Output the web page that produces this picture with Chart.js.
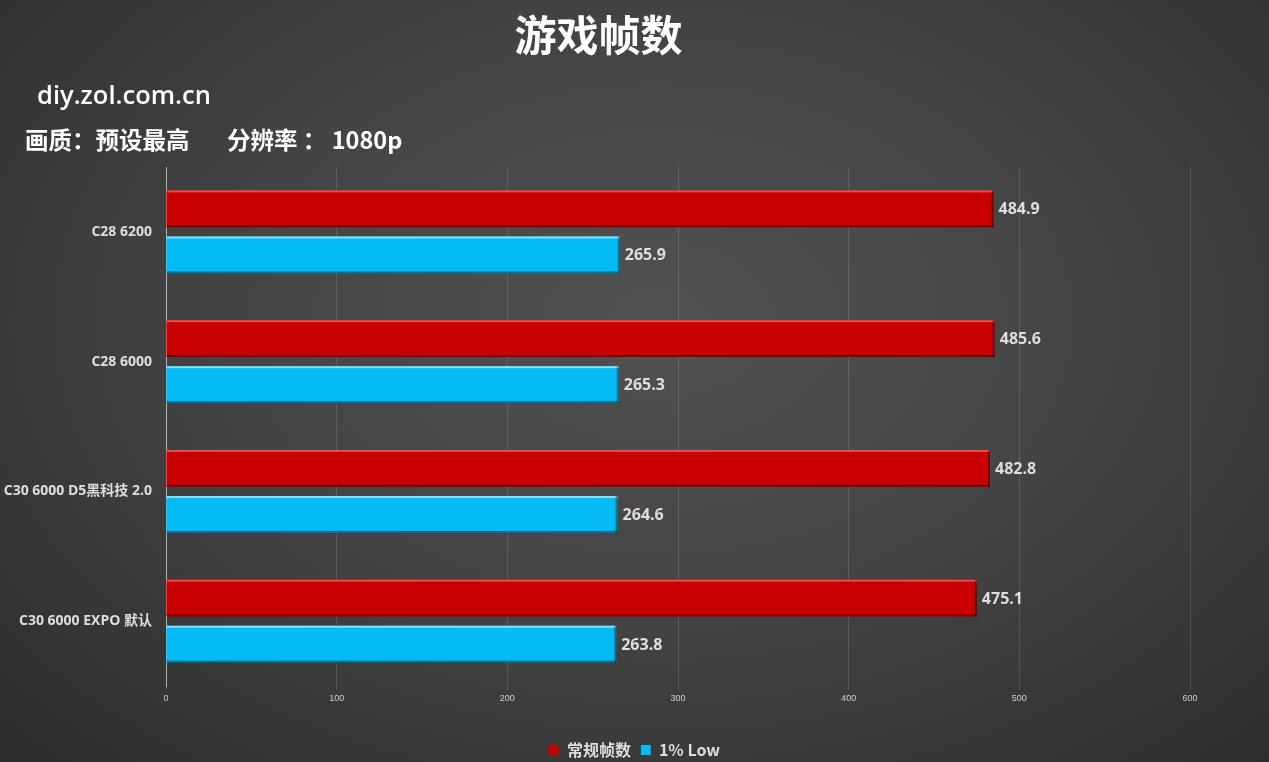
<!DOCTYPE html>
<html>
<head>
<meta charset="utf-8">
<script src="https://cdn.jsdelivr.net/npm/chart.js@4/dist/chart.umd.min.js"></script>
<style>
  html, body { margin: 0; padding: 0; }
  body {
    width: 1269px; height: 762px; overflow: hidden; position: relative;
    background: radial-gradient(ellipse 75% 85% at 52% 42%, #515151 0%, #444 45%, #2b2b2b 100%);
    font-family: "Noto Sans CJK SC", "Noto Sans", sans-serif;
  }
  .txt { position: absolute; color: #fff; font-weight: bold; white-space: pre; }
  #title { left: 0; width: 1197px; text-align: center; top: 2px; font-size: 42px; }
  #site { left: 37px; top: 77px; font-size: 25.5px; font-family: "Open Sans", "Noto Sans", sans-serif; font-weight: 600; }
  #sub { left: 25px; top: 122px; font-size: 23.5px; }
  #sub span { position: absolute; top: 0; }
  #wrap { position: absolute; left: 0; top: 0; width: 1269px; height: 762px; }
</style>
</head>
<body>
<div id="wrap"><canvas id="fpsChart" width="1269" height="762"></canvas></div>
<div class="txt" id="title">游戏帧数</div>
<div class="txt" id="site">diy.zol.com.cn</div>
<div class="txt" id="sub"><span style="left:0">画质：预设最高</span><span style="left:202px">分辨率 ： 1080p</span></div>
<script>
/* ---- data ---- */
const categories = ['C28 6200', 'C28 6000', 'C30 6000 D5黑科技 2.0', 'C30 6000 EXPO 默认'];
const avgFps = [484.9, 485.6, 482.8, 475.1];
const lowFps = [265.9, 265.3, 264.6, 263.8];
const seriesNames = ['常规帧数', '1% Low'];
const xTicks = [0, 100, 200, 300, 400, 500, 600];

const COLORS = {
  red: '#c90000',
  redTop: '#f04a4a',
  blue: '#05bbf6',
  blueTop: '#7fe2ff',
  label: '#dedede',
  grid: 'rgba(255,255,255,0.13)',
};

// value labels + top highlight on each bar
const barDecor = {
  id: 'barDecor',
  afterDatasetsDraw(chart) {
    const { ctx } = chart;
    ctx.save();
    chart.data.datasets.forEach((ds, di) => {
      const meta = chart.getDatasetMeta(di);
      meta.data.forEach((bar, i) => {
        const top = bar.y - bar.height / 2;
        ctx.fillStyle = di === 0 ? COLORS.redTop : COLORS.blueTop;
        ctx.fillRect(bar.base, top, bar.x - bar.base, 2);
        ctx.fillStyle = 'rgba(0,0,0,0.35)';
        ctx.fillRect(bar.base, top + bar.height - 2, bar.x - bar.base, 2);
        ctx.fillRect(bar.x - 2, top, 2, bar.height);

        ctx.fillStyle = COLORS.label;
        ctx.font = 'bold 16px "Open Sans", "Noto Sans", sans-serif';
        ctx.textAlign = 'left';
        ctx.textBaseline = 'middle';
        ctx.fillText(ds.data[i].toFixed(1), bar.x + 5, bar.y + 1);
      });
    });
    ctx.restore();
  }
};

new Chart(document.getElementById('fpsChart'), {
  type: 'bar',
  data: {
    labels: categories,
    datasets: [
      { label: seriesNames[0], data: avgFps, backgroundColor: COLORS.red,
        categoryPercentage: 0.71, barPercentage: 0.8 },
      { label: seriesNames[1], data: lowFps, backgroundColor: COLORS.blue,
        categoryPercentage: 0.71, barPercentage: 0.8 },
    ]
  },
  options: {
    indexAxis: 'y',
    responsive: false,
    animation: false,
    layout: { padding: { top: 167, right: 0, left: 0, bottom: -6 } },
    plugins: {
      legend: {
        position: 'bottom',
        labels: {
          color: COLORS.label,
          boxWidth: 10, boxHeight: 10,
          padding: 10,
          font: { size: 16, weight: 'bold', family: '"Noto Sans CJK SC", sans-serif' },
        }
      },
      tooltip: { enabled: false },
    },
    scales: {
      x: {
        min: 0, max: 600,
        afterBuildTicks: (s) => { s.ticks = xTicks.map(v => ({ value: v })); },
        grid: { color: COLORS.grid, drawTicks: true, tickLength: 4 },
        border: { display: false },
        ticks: { color: '#cfcfcf', font: { size: 9 }, padding: 3 },
        afterFit: (s) => { s.height = 46; },
      },
      y: {
        grid: { display: false },
        border: { color: 'rgba(255,255,255,0.55)', width: 1 },
        ticks: {
          color: COLORS.label, padding: 6,
          font: { size: 14, weight: 'bold', family: '"Open Sans", "Noto Sans CJK SC", sans-serif' },
        },
        afterFit: (s) => { s.width = 166; },
      },
      yRight: {
        type: 'category',
        position: 'right',
        grid: { display: false },
        border: { display: false },
        ticks: { display: false },
        afterFit: (s) => { s.width = 79; },
      }
    }
  },
  plugins: [barDecor]
});
</script>
</body>
</html>
